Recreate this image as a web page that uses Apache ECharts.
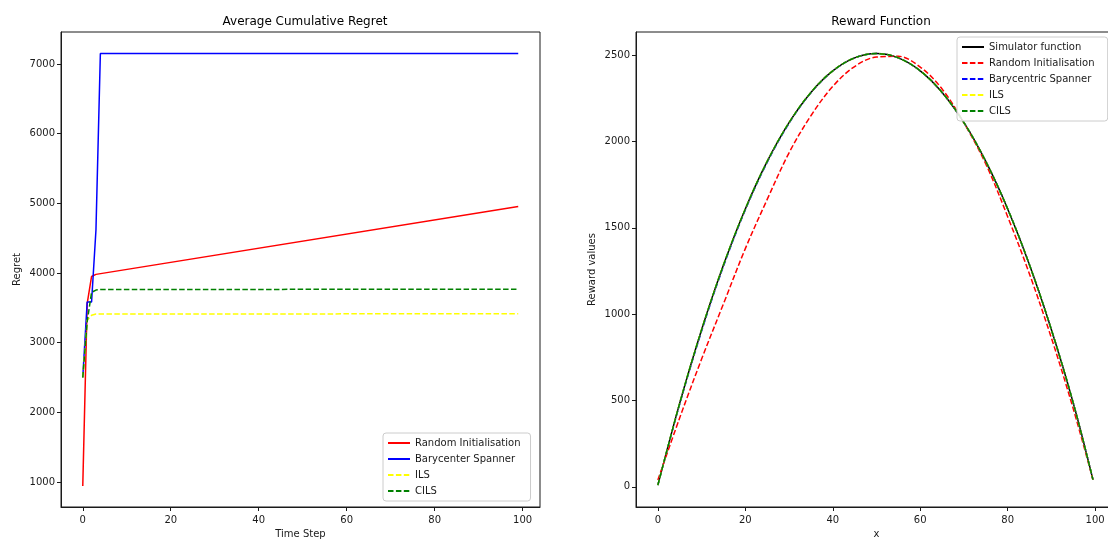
<!DOCTYPE html>
<html>
<head>
<meta charset="utf-8">
<script src="https://cdn.jsdelivr.net/npm/echarts@6/dist/echarts.min.js"></script>
<style>
  html, body { margin: 0; padding: 0; background: #fff; }
  #chart { width: 1108px; height: 540px; }
</style>
</head>
<body>
<div id="chart"></div>
<script>
// ---- Average cumulative regret (vertices of each polyline) ----
const randomT = [0, 1, 2, 3, 99];
const randomRegret = [943, 3560, 3950, 3980, 4955];
const spannerT = [0, 1, 2, 3, 4, 99];
const spannerRegret = [2500, 3583, 3583, 4620, 7150, 7150];
const ilsT = [0, 1, 2, 3, 99];
const ilsRegret = [2500, 3320, 3392, 3410, 3415];
const cilsT = [0, 1, 2, 3, 4, 99];
const cilsRegret = [2500, 3300, 3722, 3755, 3762, 3768];

const regretXTicks = [0, 20, 40, 60, 80, 100];
const regretYTicks = [1000, 2000, 3000, 4000, 5000, 6000, 7000];

// ---- Reward function samples ----
const rewardX = [0, 5, 10, 15, 20, 25, 30, 35, 40, 45, 50, 55, 60, 65, 70, 75, 80, 85, 90, 95, 99.5];
const simulatorReward = [10, 485, 910, 1285, 1610, 1885, 2110, 2285, 2410, 2485, 2510, 2485, 2410, 2285, 2110, 1885, 1610, 1285, 910, 485, 42];
const randomReward = [40, 400, 740, 1060, 1380, 1665, 1935, 2150, 2320, 2435, 2490, 2494, 2432, 2305, 2108, 1870, 1565, 1232, 862, 452, 40];
const spannerReward = [10, 480, 902, 1278, 1604, 1880, 2106, 2283, 2409, 2485, 2510, 2485, 2410, 2285, 2110, 1885, 1610, 1285, 910, 485, 42];
const ilsReward = [10, 485, 910, 1285, 1610, 1885, 2110, 2285, 2410, 2485, 2510, 2485, 2410, 2285, 2110, 1885, 1610, 1285, 910, 485, 42];
const cilsReward = [10, 485, 910, 1285, 1610, 1885, 2110, 2285, 2410, 2485, 2510, 2485, 2410, 2285, 2110, 1885, 1610, 1285, 910, 485, 42];

const rewardXTicks = [0, 20, 40, 60, 80, 100];
const rewardYTicks = [0, 500, 1000, 1500, 2000, 2500];

const zip = (xs, ys) => xs.map((x, i) => [x, ys[i]]);

const FONT = 'DejaVu Sans';
const INK = '#1a1a1a';
const DASH = [5.5, 2.4];

function valueAxis(gridIndex, min, max, ticks, labelMargin, extra) {
  return Object.assign({
    type: 'value',
    gridIndex: gridIndex,
    min: min,
    max: max,
    splitLine: { show: false },
    axisLine: { show: true, onZero: false, lineStyle: { color: INK, width: 1 } },
    axisTick: { show: true, length: 4, lineStyle: { color: INK }, customValues: ticks },
    axisLabel: {
      color: INK, fontFamily: FONT, fontSize: 10, margin: labelMargin, customValues: ticks,
      formatter: (v) => String(v)
    },
    nameTextStyle: { color: INK, fontFamily: FONT, fontSize: 10 }
  }, extra || {});
}

function line(name, xi, data, color, dashed, smooth) {
  return {
    name: name,
    type: 'line',
    xAxisIndex: xi,
    yAxisIndex: xi,
    data: data,
    symbol: 'none',
    smooth: smooth ? 0.35 : false,
    animation: false,
    lineStyle: { color: color, width: 1.5, type: dashed ? DASH : 'solid' },
    itemStyle: { color: color }
  };
}

const legendBase = {
  orient: 'vertical',
  backgroundColor: 'rgba(255,255,255,0.85)',
  borderColor: '#cccccc',
  borderWidth: 1,
  borderRadius: 3,
  padding: [5, 10, 5, 4],
  itemWidth: 22,
  itemHeight: 10,
  itemGap: 6,
  itemStyle: { opacity: 0 },
  textStyle: { color: INK, fontFamily: FONT, fontSize: 10 },
  selectedMode: false
};

const chart = echarts.init(document.getElementById('chart'), null, { renderer: 'canvas' });

chart.setOption({
  animation: false,
  backgroundColor: '#ffffff',
  title: [
    { text: 'Average Cumulative Regret', left: 300, top: 11, textAlign: 'center',
      textStyle: { fontFamily: FONT, fontSize: 12, fontWeight: 'normal', color: '#000' } },
    { text: 'Reward Function', left: 876, top: 11, textAlign: 'center',
      textStyle: { fontFamily: FONT, fontSize: 12, fontWeight: 'normal', color: '#000' } }
  ],
  grid: [
    { left: 61, top: 32, width: 479, bottom: 33, show: true, borderColor: INK, borderWidth: 1,
      containLabel: false, outerBoundsMode: 'none' },
    { left: 636, top: 32, width: 481, bottom: 33, show: true, borderColor: INK, borderWidth: 1,
      containLabel: false, outerBoundsMode: 'none' }
  ],
  xAxis: [
    valueAxis(0, -4.95, 103.95, regretXTicks, 8, { name: 'Time Step', nameLocation: 'middle', nameGap: 21 }),
    valueAxis(1, -5, 105, rewardXTicks, 8, { name: 'x', nameLocation: 'middle', nameGap: 21 })
  ],
  yAxis: [
    valueAxis(0, 640, 7460, regretYTicks, 6, { name: 'Regret', nameLocation: 'middle', nameGap: 39, nameRotate: 90 }),
    valueAxis(1, -117, 2635, rewardYTicks, 6, { name: 'Reward values', nameLocation: 'middle', nameGap: 39, nameRotate: 90 })
  ],
  legend: [
    Object.assign({}, legendBase, {
      left: 383, top: 433,
      data: ['Random Initialisation', 'Barycenter Spanner', 'ILS', 'CILS']
    }),
    Object.assign({}, legendBase, {
      left: 957, top: 37,
      data: ['Simulator function', 'Random Initialisation ', 'Barycentric Spanner', 'ILS ', 'CILS ']
    })
  ],
  series: [
    line('Random Initialisation', 0, zip(randomT, randomRegret), '#ff0000', false, false),
    line('Barycenter Spanner', 0, zip(spannerT, spannerRegret), '#0000ff', false, false),
    line('ILS', 0, zip(ilsT, ilsRegret), '#ffff00', true, false),
    line('CILS', 0, zip(cilsT, cilsRegret), '#008000', true, false),

    line('Simulator function', 1, zip(rewardX, simulatorReward), '#000000', false, true),
    line('Random Initialisation ', 1, zip(rewardX, randomReward), '#ff0000', true, true),
    line('Barycentric Spanner', 1, zip(rewardX, spannerReward), '#0000ff', true, true),
    line('ILS ', 1, zip(rewardX, ilsReward), '#ffff00', true, true),
    line('CILS ', 1, zip(rewardX, cilsReward), '#008000', true, true)
  ]
});
</script>
</body>
</html>
